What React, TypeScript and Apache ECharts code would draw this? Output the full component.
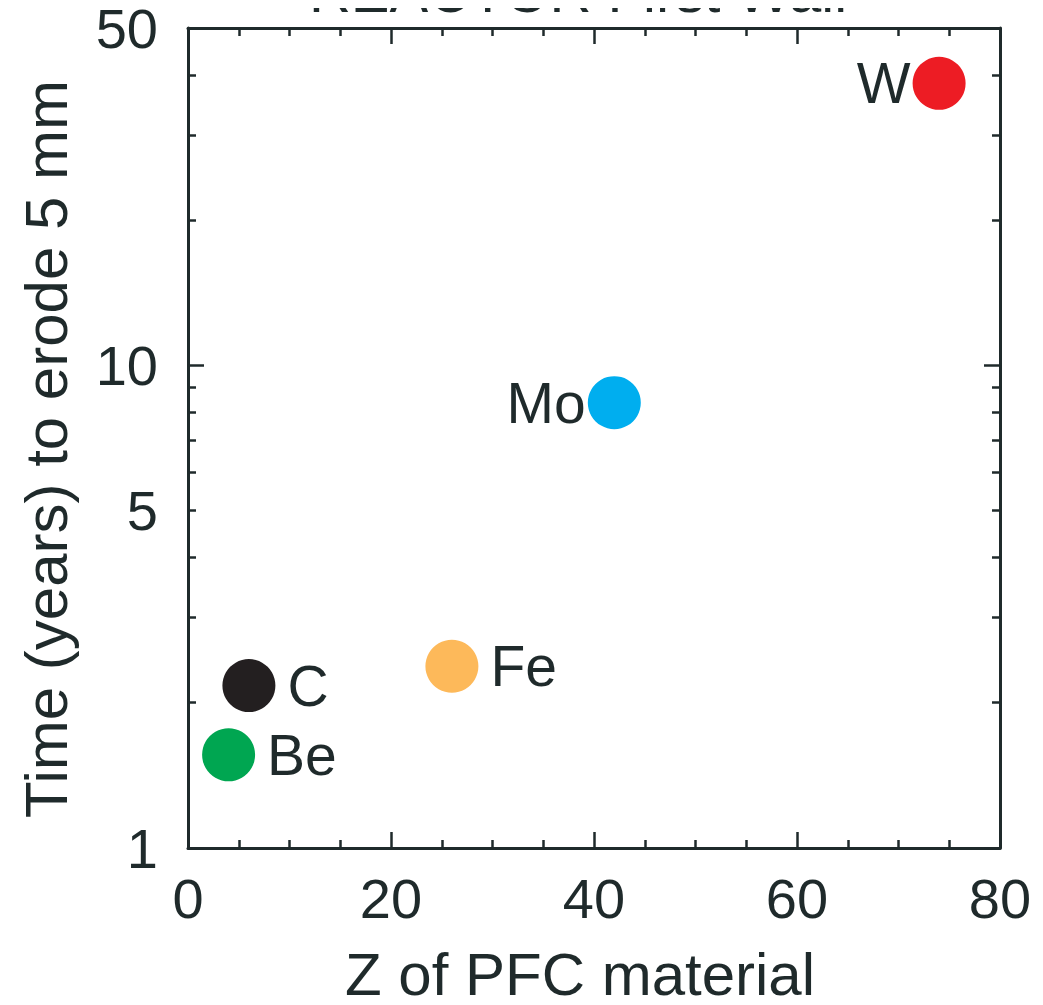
import React, { useEffect, useRef } from "react";
import * as echarts from "echarts";

// Erosion lifetime of candidate plasma-facing materials
const elements = ["Be", "C", "Fe", "Mo", "W"];
const atomicNumber = [4, 6, 26, 42, 74];
const yearsToErode = [1.56, 2.17, 2.38, 8.37, 38.4];
const pointColors = ["#00a651", "#231f20", "#fdb95a", "#00aeef", "#ed1c24"];
const labelSide = ["right", "right", "right", "left", "left"];

const xTicksMinorPerMajor = 4;
const yMajorTicks = [1, 10];
const yMinorTicks = [2, 3, 4, 5, 6, 7, 8, 9, 20, 30, 40];
const yTickLabels = [1, 5, 10, 50];

const INK = "#1f2a2b";
const FONT = "'Liberation Sans', Arial, Helvetica, sans-serif";

export default function App() {
  const ref = useRef<HTMLDivElement>(null);

  useEffect(() => {
    if (!ref.current) return;
    const chart = echarts.init(ref.current, undefined, { renderer: "svg" });

    const xAxisBase = {
      type: "value",
      min: 0,
      max: 80,
      interval: 20,
      axisLine: { show: true, onZero: false, lineStyle: { color: INK, width: 3 } },
      axisTick: { show: true, inside: true, length: 16, lineStyle: { color: INK, width: 2.5 } },
      minorTick: { show: true, splitNumber: xTicksMinorPerMajor, length: 8, lineStyle: { color: INK, width: 2.5 } },
      splitLine: { show: false },
      minorSplitLine: { show: false },
    };

    const yAxisBase = {
      type: "log",
      logBase: 10,
      min: 1,
      max: 50,
      splitLine: { show: false },
      minorTick: { show: false },
    };

    const majorY = (position: string, labels: boolean) => ({
      ...yAxisBase,
      position,
      axisLine: { show: true, onZero: false, lineStyle: { color: INK, width: 3 } },
      axisTick: {
        show: true,
        inside: true,
        length: 16,
        customValues: yMajorTicks,
        lineStyle: { color: INK, width: 2.5 },
      },
      axisLabel: labels
        ? {
            show: true,
            customValues: yTickLabels,
            fontSize: 56,
            fontFamily: FONT,
            color: INK,
            margin: 30,
          }
        : { show: false },
    });

    const minorY = (position: string) => ({
      ...yAxisBase,
      position,
      axisLine: { show: false, onZero: false },
      axisTick: {
        show: true,
        inside: true,
        length: 8,
        customValues: yMinorTicks,
        lineStyle: { color: INK, width: 2.5 },
      },
      axisLabel: { show: false },
    });

    const data = elements.map((name, i) => ({
      name,
      value: [atomicNumber[i], yearsToErode[i]],
      itemStyle: { color: pointColors[i], opacity: 1 },
      label: {
        position: labelSide[i],
        distance: labelSide[i] === "left" ? 2 : 12,
      },
    }));

    chart.setOption({
      animation: false,
      backgroundColor: "#ffffff",
      grid: { left: 188, right: 43, top: 26, bottom: 157, containLabel: false },
      xAxis: [
        {
          ...xAxisBase,
          position: "bottom",
          axisLabel: { show: true, fontSize: 56, fontFamily: FONT, color: INK, margin: 22 },
        },
        { ...xAxisBase, position: "top", axisLabel: { show: false } },
      ],
      yAxis: [majorY("left", true), minorY("left"), majorY("right", false), minorY("right")],
      series: [
        {
          type: "scatter",
          xAxisIndex: 0,
          yAxisIndex: 0,
          symbol: "circle",
          symbolSize: 53,
          data,
          label: {
            show: true,
            formatter: "{b}",
            fontSize: 57,
            fontFamily: FONT,
            color: INK,
          },
          emphasis: { disabled: true },
        },
      ],
      graphic: [
        {
          type: "text",
          x: 578,
          y: -9,
          style: {
            text: "REACTOR First Wall",
            fontSize: 58,
            fontFamily: FONT,
            fill: INK,
            align: "center",
            verticalAlign: "middle",
          },
        },
        {
          type: "text",
          x: 580,
          y: 974,
          style: {
            text: "Z of PFC material",
            fontSize: 60,
            fontFamily: FONT,
            fill: INK,
            align: "center",
            verticalAlign: "middle",
          },
        },
        {
          type: "text",
          x: 46,
          y: 449,
          rotation: Math.PI / 2,
          style: {
            text: "Time (years) to erode 5 mm",
            fontSize: 60,
            fontFamily: FONT,
            fill: INK,
            align: "center",
            verticalAlign: "middle",
          },
        },
      ],
    });

    return () => chart.dispose();
  }, []);

  return <div ref={ref} style={{ width: 1043, height: 1005, margin: -8 }} />;
}
